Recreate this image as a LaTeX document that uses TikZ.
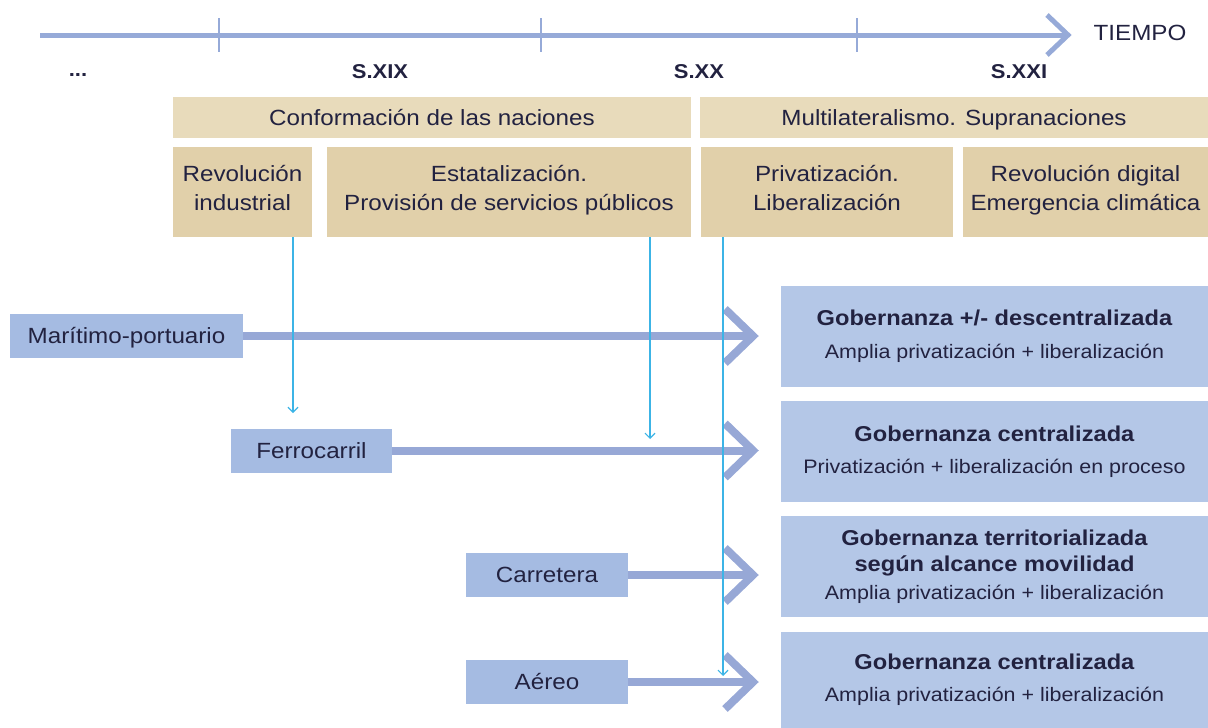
\documentclass[tikz,border=0pt]{standalone}
\usepackage{fontspec}
\setmainfont{Liberation Sans}[FakeStretch=1.1]
\usetikzlibrary{arrows.meta,calc}
\definecolor{txt}{RGB}{34,34,64}
\definecolor{beigeA}{RGB}{232,219,187}
\definecolor{beigeB}{RGB}{225,208,170}
\definecolor{modeblue}{RGB}{165,187,226}
\definecolor{govblue}{RGB}{180,199,231}
\definecolor{arrowblue}{RGB}{151,168,214}
\definecolor{timeblue}{RGB}{150,170,216}
\definecolor{cyanline}{RGB}{60,180,230}
\begin{document}
\begin{tikzpicture}[x=1pt,y=-1pt,
  font=\fontsize{22}{29}\selectfont, text=txt,
  period/.style={fill=beigeA, inner sep=0pt, align=center, minimum height=41pt,
    text height=18pt, text depth=3pt},
  phase/.style={fill=beigeB, inner sep=0pt, align=center, minimum height=90pt,
    text height=47pt, text depth=11pt},
  mode/.style={fill=modeblue, inner sep=0pt, minimum height=44pt,
    text height=18pt, text depth=3pt},
  gov/.style={fill=govblue, inner sep=0pt, align=center, minimum width=427pt,
    font=\fontsize{21.5}{26}\selectfont},
  century/.style={font=\fontsize{20}{24}\selectfont\bfseries},
  timeline/.style={draw=timeblue, line width=5pt},
  tick/.style={draw=timeblue, line width=2pt},
  flow/.style={draw=arrowblue, line width=8pt},
  cyanarr/.style={draw=cyanline, line width=1.2pt, -{Straight Barb[length=5pt,width=10pt,line width=1.2pt]}},
]
\useasboundingbox (0,0) rectangle (1208,728);

% timeline
\coordinate (tstart) at (40,35);
\coordinate (tend) at (1068,35);
\draw[timeline] (tstart) -- (tend);
\draw[timeline, miter limit=10] ($(tend)+(-21,-20)$) -- (tend) -- ($(tend)+(-21,20)$);
\foreach \x/\n in {219/ta,541/tb,857/tc}{
  \coordinate (\n a) at (\x,18);
  \coordinate (\n b) at (\x,52);
  \draw[tick] (\n a) -- (\n b);
}
\node (tiempo) at (1140,33) {TIEMPO};
\node[century] (dots) at (78,75) {...};
\node[century] (s19) at (380,72) {S.XIX};
\node[century] (s20) at (699,72) {S.XX};
\node[century] (s21) at (1019,72) {S.XXI};

% periods
\node[period, minimum width=518pt] (conf) at (432,117.5) {Conformación de las naciones};
\node[period, minimum width=508pt] (multi) at (954,117.5) {Multilateralismo. Supranaciones};

% phases
\node[phase, minimum width=139pt] (rind) at (242.5,192) {Revolución\\industrial};
\node[phase, minimum width=364pt] (estat) at (509,192) {Estatalización.\\Provisión de servicios públicos};
\node[phase, minimum width=252pt] (priv) at (827,192) {Privatización.\\Liberalización};
\node[phase, minimum width=245pt] (rdig) at (1085.5,192) {Revolución digital\\Emergencia climática};

% modes
\node[mode, minimum width=233pt] (mar) at (126.5,336) {Marítimo-portuario};
\node[mode, minimum width=161pt] (fer) at (311.5,450.5) {Ferrocarril};
\node[mode, minimum width=162pt] (car) at (547,575) {Carretera};
\node[mode, minimum width=162pt] (aer) at (547,682) {Aéreo};

% governance
\node[gov, minimum height=101pt] (g1) at (994.5,336.5)
  {\textbf{Gobernanza +/- descentralizada}\\[7pt]{\fontsize{19.5}{24}\selectfont Amplia privatización + liberalización}};
\node[gov, minimum height=101pt] (g2) at (994.5,451.5)
  {\textbf{Gobernanza centralizada}\\[6pt]{\fontsize{19.5}{24}\selectfont Privatización + liberalización en proceso}};
\node[gov, minimum height=101pt] (g3) at (994.5,566.5)
  {\textbf{Gobernanza territorializada}\\\textbf{según alcance movilidad}\\[2pt]{\fontsize{19.5}{24}\selectfont Amplia privatización + liberalización}};
\node[gov, minimum height=96pt] (g4) at (994.5,680)
  {\textbf{Gobernanza centralizada}\\[6pt]{\fontsize{19.5}{24}\selectfont Amplia privatización + liberalización}};

% flow arrows
\coordinate (tipx) at (753,0);
\foreach \m in {mar,fer,car,aer}{
  \coordinate (tip\m) at (\m.east -| tipx);
  \draw[flow] (\m.east) -- (tip\m);
  \draw[flow, miter limit=10] ($(tip\m)+(-28,-27)$) -- (tip\m) -- ($(tip\m)+(-28,27)$);
}

% cyan arrows
\coordinate (c1) at (293,413);
\coordinate (c2) at (650,439);
\coordinate (c3) at (723,676);
\draw[cyanarr] (rind.south -| c1) -- (c1);
\draw[cyanarr] (estat.south -| c2) -- (c2);
\draw[cyanarr] (priv.south -| c3) -- (c3);
\end{tikzpicture}
\end{document}
